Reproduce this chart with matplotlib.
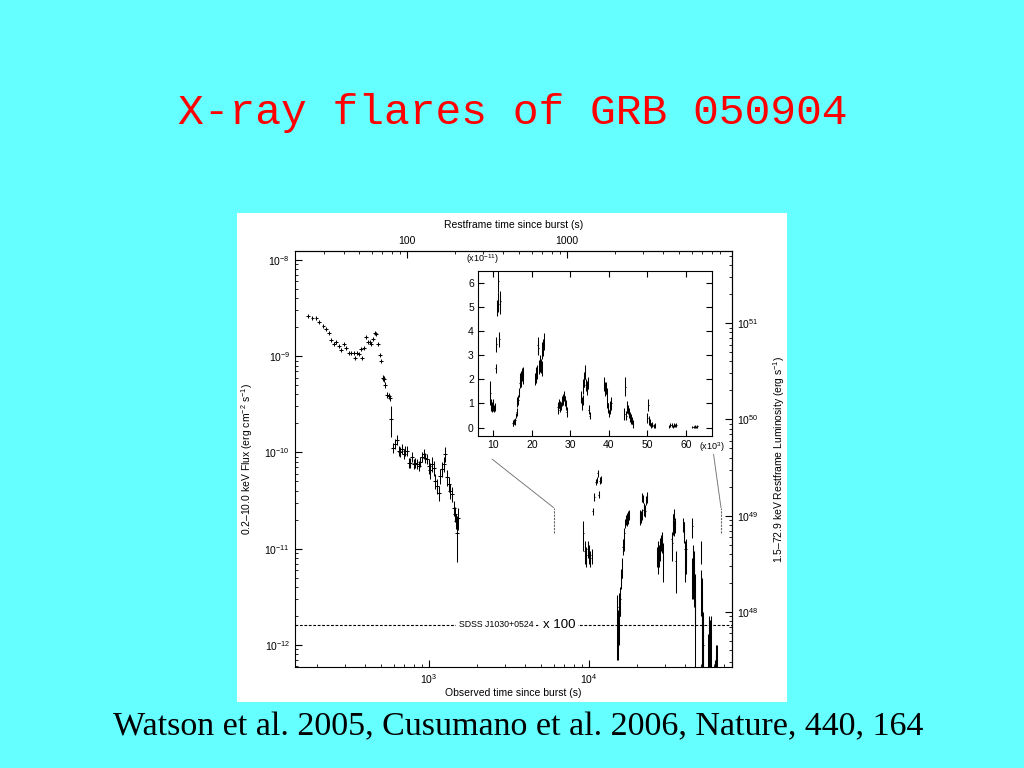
import matplotlib
matplotlib.use("Agg")
import numpy as np
import matplotlib.pyplot as plt
from matplotlib.patches import Rectangle, ConnectionPatch
from matplotlib.ticker import NullFormatter, MultipleLocator

plt.rcParams['font.family'] = ['Liberation Sans', 'DejaVu Sans']
plt.rcParams['mathtext.fontset'] = 'custom'
plt.rcParams['mathtext.rm'] = 'Liberation Sans'
plt.rcParams['mathtext.it'] = 'Liberation Sans:italic'
plt.rcParams['mathtext.bf'] = 'Liberation Sans:bold'

# early light curve: observed time (s), 0.2-10 keV flux (erg cm-2 s-1), fractional error
t_early = [175, 186, 197, 205, 218, 227, 237, 244, 255, 262, 274, 282, 294, 303,
           316, 325, 340, 345, 355, 365, 376, 381, 392, 404, 416, 428, 434, 447,
           460, 467, 480, 494, 501, 516, 523, 531, 547, 562, 571, 579, 596, 613,
           631, 649, 659, 678, 698, 708, 729, 750, 761, 783, 806, 818, 841, 866,
           879, 904, 930, 944, 972, 1000, 1014, 1044, 1075, 1090, 1122, 1155,
           1172, 1206, 1241, 1259, 1296, 1334, 1353, 1393, 1433, 1454, 1476,
           1490, 1518]
f_early = [2.63e-9, 2.51e-9, 2.51e-9, 2.28e-9, 2.07e-9, 1.93e-9, 1.75e-9, 1.48e-9,
           1.35e-9, 1.41e-9, 1.28e-9, 1.17e-9, 1.35e-9, 1.22e-9, 1.08e-9, 1.08e-9,
           1.08e-9, 0.96e-9, 1.08e-9, 1.06e-9, 1.19e-9, 0.96e-9, 1.22e-9, 1.59e-9,
           1.41e-9, 1.41e-9, 1.35e-9, 1.52e-9, 1.75e-9, 1.71e-9, 1.35e-9, 1.03e-9,
           8.96e-10, 5.97e-10, 5.82e-10, 5.05e-10, 3.97e-10, 3.88e-10, 3.70e-10,
           2.24e-10, 1.12e-10, 1.23e-10, 1.36e-10, 1.04e-10, 1.02e-10, 1.09e-10,
           9.7e-11, 1.04e-10, 1.04e-10, 7.8e-11, 7.8e-11, 9.0e-11, 7.6e-11, 7.8e-11,
           7.6e-11, 7.3e-11, 8.0e-11, 9.0e-11, 9.7e-11, 8.8e-11, 8.6e-11, 7.3e-11,
           6.5e-11, 7.6e-11, 6.9e-11, 5.1e-11, 4.5e-11, 3.8e-11, 5.7e-11, 6.8e-11,
           7.6e-11, 9.7e-11, 5.5e-11, 4.7e-11, 4.0e-11, 3.7e-11, 2.67e-11, 2.31e-11,
           1.95e-11, 1.45e-11, 2.10e-11]
ferr_early = [0.05] * 33 + [0.07] * 6 + [0.35] + [0.12] * 21 + [0.18] * 18 + [0.5, 0.25]

# flaring phase (inset units): time (1e3 s), flux (1e-11 erg cm-2 s-1), error
t_late = [9.2, 9.4, 9.6, 9.8, 10.0, 10.2, 10.4, 10.55, 10.8, 11.0, 11.15, 11.3, 11.5, 11.65, 11.8,
          15.0, 15.2, 15.35, 15.5, 15.7, 15.9, 16.05, 16.25, 16.45, 16.65, 16.85, 17.0, 17.15, 17.3, 17.45, 17.6, 17.7,
          20.8, 20.95, 21.1, 21.3, 21.5, 21.7, 21.9, 22.05, 22.2, 22.35, 22.5, 22.7, 22.9, 23.1,
          26.7, 26.9, 27.05, 27.2, 27.4, 27.6, 27.8, 28.0, 28.2, 28.4, 28.6, 28.8, 29.0,
          32.8, 33.0, 33.2, 33.4, 33.6, 33.8, 34.0, 34.2, 34.4, 34.6, 34.8, 35.0,
          38.8, 39.0, 39.2, 39.4, 39.6, 39.8, 40.0, 40.2, 40.4, 40.6,
          44.0, 44.3, 44.5, 44.8, 45.0, 45.3, 45.5, 45.8, 46.0, 46.2,
          50.0, 50.3, 50.5, 50.8, 51.0, 51.3, 51.6, 51.9,
          55.7, 56.0, 56.3, 56.6, 56.9, 57.2, 57.5,
          61.7, 62.0, 62.3, 62.6, 63.0]
f_late = [1.45, 0.95, 0.85, 1.0, 0.9, 0.8, 0.85, 2.45, 3.45, 4.95, 5.2, 6.05, 3.65, 5.1, 5.25,
          0.2, 0.15, 0.25, 0.2, 0.3, 0.5, 0.65, 1.05, 1.15, 1.45, 1.85, 2.0, 1.9, 2.1, 2.2, 2.05, 2.25,
          2.0, 2.2, 2.15, 2.3, 3.4, 3.3, 2.5, 2.7, 2.6, 2.55, 2.45, 3.2, 3.3, 3.55,
          0.85, 0.75, 1.0, 0.8, 0.95, 0.9, 1.1, 1.2, 1.15, 1.3, 1.1, 0.95, 0.65,
          1.25, 1.0, 1.15, 1.7, 2.0, 2.3, 1.75, 1.55, 1.7, 1.85, 0.75, 0.5,
          1.8, 1.6, 1.65, 1.4, 1.0, 0.8, 0.6, 0.75, 0.9, 1.0,
          0.55, 1.7, 0.5, 0.85, 0.75, 0.6, 0.45, 0.35, 0.3, 0.15,
          0.4, 0.95, 0.3, 0.2, 0.1, 0.12, 0.08, 0.1,
          0.05, 0.12, 0.1, 0.05, 0.1, 0.08, 0.12,
          0.02, 0.03, 0.05, 0.03, 0.05]
e_late = [0.5, 0.25, 0.2, 0.2, 0.2, 0.15, 0.15, 0.2, 0.3, 0.35, 0.4, 0.45, 0.3, 0.4, 0.4,
          0.13, 0.08, 0.1, 0.1, 0.1, 0.12, 0.15, 0.2, 0.2, 0.2, 0.2, 0.25, 0.2, 0.25, 0.25, 0.25, 0.25,
          0.25, 0.3, 0.3, 0.3, 0.35, 0.3, 0.3, 0.3, 0.3, 0.3, 0.3, 0.35, 0.35, 0.35,
          0.2, 0.2, 0.2, 0.15, 0.15, 0.15, 0.2, 0.2, 0.2, 0.2, 0.2, 0.2, 0.2,
          0.25, 0.25, 0.2, 0.3, 0.3, 0.3, 0.25, 0.2, 0.25, 0.25, 0.2, 0.15,
          0.3, 0.3, 0.25, 0.25, 0.2, 0.2, 0.15, 0.2, 0.2, 0.25,
          0.25, 0.4, 0.2, 0.25, 0.2, 0.2, 0.2, 0.2, 0.15, 0.15,
          0.2, 0.25, 0.2, 0.15, 0.1, 0.1, 0.08, 0.1,
          0.08, 0.08, 0.08, 0.06, 0.08, 0.06, 0.08,
          0.05, 0.05, 0.05, 0.05, 0.05]

flux_ticks = [1e-12, 1e-11, 1e-10, 1e-9, 1e-8]
lum_ticks = [1e48, 1e49, 1e50, 1e51]
time_ticks = [1e3, 1e4]
rest_ticks = [100, 1000]
redshift = 6.29
lum_factor = 10 ** 59.657     # flux -> restframe 1.5-72.9 keV luminosity
sdss_level = 1.62e-12
inset_xlim = (6.0, 66.8)

t_early = np.array(t_early)
f_early = np.array(f_early)
t_late = np.array(t_late)
f_late = np.array(f_late)
e_late = np.array(e_late)

W, H = 1024, 768
fig = plt.figure(figsize=(W / 100, H / 100), dpi=100, facecolor='#66FFFF')
fig.add_artist(Rectangle((237 / W, 66 / H), 550 / W, 489 / H, transform=fig.transFigure,
                         facecolor='white', edgecolor='none', zorder=0))

fig.text(0.501, 1 - 113 / H, 'X-ray flares of GRB 050904', color='#FF0000',
         family='Liberation Mono', fontsize=31, ha='center', va='center')
fig.text(0.506, 1 - 727 / H, 'Watson et al. 2005, Cusumano et al. 2006, Nature, 440, 164',
         family='Liberation Serif', fontsize=24.5, ha='center', va='center', color='black')

fs = 7.5
ax = fig.add_axes([295 / W, 101 / H, 437 / W, 416 / H])
ax.set_facecolor('none')
ax.set_xscale('log')
ax.set_yscale('log')
ax.set_xlim(145, 78300)
ax.set_ylim(10 ** -12.23, 10 ** -7.907)
ax.set_xticks(time_ticks)
ax.set_yticks(flux_ticks)

ekw = dict(fmt='none', ecolor='black', elinewidth=0.75, capsize=0)
ax.errorbar(t_early, f_early, yerr=f_early * np.array(ferr_early), xerr=t_early * 0.025, **ekw)
ax.errorbar(t_late * 1e3, f_late * 1e-11, yerr=e_late * 1e-11, xerr=90, **ekw)

ax.axhline(sdss_level, color='black', lw=0.8, dashes=(2.5, 1.5))
ax.text(2620, sdss_level, 'SDSS J1030+0524', fontsize=6.3, ha='center', va='center',
        bbox=dict(facecolor='white', edgecolor='none', pad=2))
ax.text(6500, sdss_level, 'x 100', fontsize=9.5, ha='center', va='center',
        bbox=dict(facecolor='white', edgecolor='none', pad=2))

for s in ax.spines.values():
    s.set_linewidth(0.8)
ax.tick_params(which='both', direction='in', labelsize=fs, top=False, right=False)
ax.tick_params(which='major', length=5)
ax.tick_params(which='minor', length=2.5)
ax.xaxis.set_minor_formatter(NullFormatter())
ax.yaxis.set_minor_formatter(NullFormatter())
ax.set_xlabel('Observed time since burst (s)', fontsize=fs, labelpad=2)
ax.set_ylabel('0.2\u201310.0 keV Flux (erg cm$^{-2}$ s$^{-1}$)', fontsize=fs, labelpad=7)

secx = ax.secondary_xaxis('top', functions=(lambda t: t / (1 + redshift), lambda r: r * (1 + redshift)))
secx.set_xticks(rest_ticks, labels=[str(v) for v in rest_ticks])
secx.xaxis.set_minor_formatter(NullFormatter())
secx.tick_params(which='both', direction='in', labelsize=fs)
secx.tick_params(which='major', length=5)
secx.tick_params(which='minor', length=2.5)
secx.set_xlabel('Restframe time since burst (s)', fontsize=fs, labelpad=6)

secy = ax.secondary_yaxis('right', functions=(lambda f: f * lum_factor, lambda L: L / lum_factor))
secy.set_yticks(lum_ticks)
secy.yaxis.set_minor_formatter(NullFormatter())
secy.tick_params(which='both', direction='in', labelsize=fs)
secy.tick_params(which='major', length=5)
secy.tick_params(which='minor', length=2.5)
secy.set_ylabel('1.5\u201372.9 keV Restframe Luminosity (erg s$^{-1}$)', fontsize=fs, labelpad=9)

# inset, linear axes
ins = fig.add_axes([478 / W, 332 / H, 234 / W, 165 / H])
ins.set_xlim(*inset_xlim)
ins.set_ylim(-0.345, 6.48)
ins.errorbar(t_late, f_late, yerr=e_late, xerr=0.09, **ekw)
ins.xaxis.set_major_locator(MultipleLocator(10))
ins.yaxis.set_major_locator(MultipleLocator(1))
ins.tick_params(direction='in', length=4, labelsize=fs, top=True, right=True, pad=3)
for s in ins.spines.values():
    s.set_linewidth(0.8)
ins.text(0.02, 1.07, '(x10$^{-11}$)', transform=ins.transAxes, fontsize=6.5, ha='center', va='center')
ins.text(1.0, -0.07, '(x10$^{3}$)', transform=ins.transAxes, fontsize=6.5, ha='center', va='center')

# markers of the inset range on the main panel
mark_lo, mark_hi = 1.47e-11, 2.67e-11
for xm, xa in zip(inset_xlim, [(9.64, -1.3), (67.2, -1.1)]):
    ax.plot([xm * 1e3, xm * 1e3], [mark_lo, mark_hi], color='0.4', lw=0.8, dashes=(2, 1))
    con = ConnectionPatch(xyA=xa, coordsA=ins.transData, xyB=(xm * 1e3, mark_hi),
                          coordsB=ax.transData, color='0.5', lw=0.7, ls=(0, (1, 0.6)))
    fig.add_artist(con)

fig.savefig('out.png', dpi=100, facecolor=fig.get_facecolor())
